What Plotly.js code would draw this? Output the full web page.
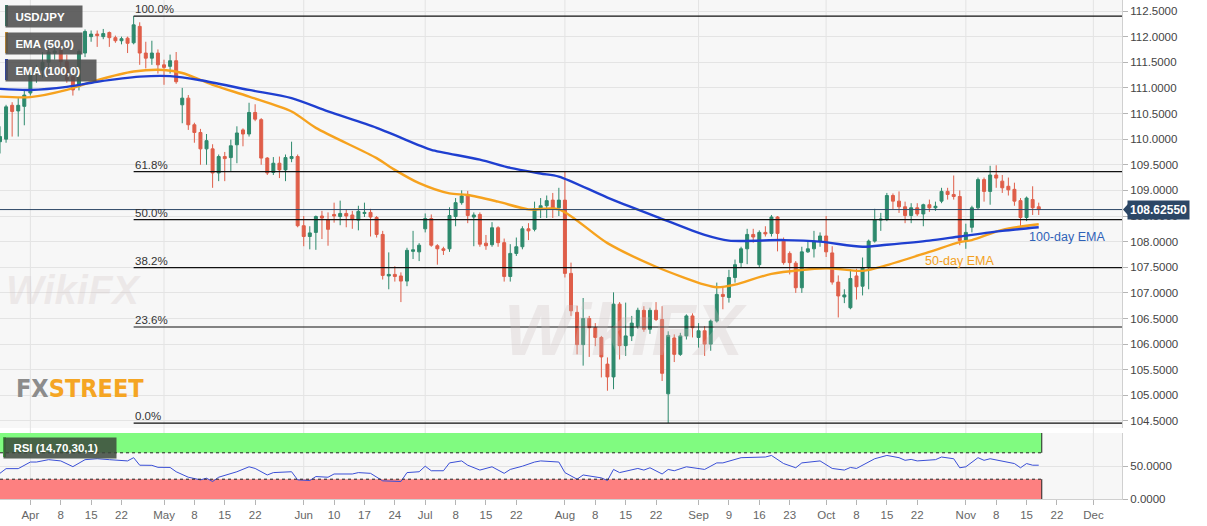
<!DOCTYPE html>
<html>
<head>
<meta charset="utf-8">
<script src="https://cdn.plot.ly/plotly-3.0.1.min.js"></script>
<style>
  html, body { margin: 0; padding: 0; background: #ffffff; }
  #chart { width: 1207px; height: 526px; }
</style>
</head>
<body>
<div id="chart"></div>
<script>
// USD/JPY daily, 25 Mar - 19 Nov 2019
const dates = [
  '2019-03-25','2019-03-26','2019-03-27','2019-03-28','2019-03-29',
  '2019-04-01','2019-04-02','2019-04-03','2019-04-04','2019-04-05',
  '2019-04-08','2019-04-09','2019-04-10','2019-04-11','2019-04-12',
  '2019-04-15','2019-04-16','2019-04-17','2019-04-18','2019-04-19',
  '2019-04-22','2019-04-23','2019-04-24','2019-04-25','2019-04-26',
  '2019-04-29','2019-04-30','2019-05-01','2019-05-02','2019-05-03',
  '2019-05-06','2019-05-07','2019-05-08','2019-05-09','2019-05-10',
  '2019-05-13','2019-05-14','2019-05-15','2019-05-16','2019-05-17',
  '2019-05-20','2019-05-21','2019-05-22','2019-05-23','2019-05-24',
  '2019-05-27','2019-05-28','2019-05-29','2019-05-30','2019-05-31',
  '2019-06-03','2019-06-04','2019-06-05','2019-06-06','2019-06-07',
  '2019-06-10','2019-06-11','2019-06-12','2019-06-13','2019-06-14',
  '2019-06-17','2019-06-18','2019-06-19','2019-06-20','2019-06-21',
  '2019-06-24','2019-06-25','2019-06-26','2019-06-27','2019-06-28',
  '2019-07-01','2019-07-02','2019-07-03','2019-07-04','2019-07-05',
  '2019-07-08','2019-07-09','2019-07-10','2019-07-11','2019-07-12',
  '2019-07-15','2019-07-16','2019-07-17','2019-07-18','2019-07-19',
  '2019-07-22','2019-07-23','2019-07-24','2019-07-25','2019-07-26',
  '2019-07-29','2019-07-30','2019-07-31','2019-08-01','2019-08-02',
  '2019-08-05','2019-08-06','2019-08-07','2019-08-08','2019-08-09',
  '2019-08-12','2019-08-13','2019-08-14','2019-08-15','2019-08-16',
  '2019-08-19','2019-08-20','2019-08-21','2019-08-22','2019-08-23',
  '2019-08-26','2019-08-27','2019-08-28','2019-08-29','2019-08-30',
  '2019-09-02','2019-09-03','2019-09-04','2019-09-05','2019-09-06',
  '2019-09-09','2019-09-10','2019-09-11','2019-09-12','2019-09-13',
  '2019-09-16','2019-09-17','2019-09-18','2019-09-19','2019-09-20',
  '2019-09-23','2019-09-24','2019-09-25','2019-09-26','2019-09-27',
  '2019-09-30','2019-10-01','2019-10-02','2019-10-03','2019-10-04',
  '2019-10-07','2019-10-08','2019-10-09','2019-10-10','2019-10-11',
  '2019-10-14','2019-10-15','2019-10-16','2019-10-17','2019-10-18',
  '2019-10-21','2019-10-22','2019-10-23','2019-10-24','2019-10-25',
  '2019-10-28','2019-10-29','2019-10-30','2019-10-31','2019-11-01',
  '2019-11-04','2019-11-05','2019-11-06','2019-11-07','2019-11-08',
  '2019-11-11','2019-11-12','2019-11-13','2019-11-14','2019-11-15',
  '2019-11-18','2019-11-19'
];

const open = [
  109.95,110.00,110.66,110.55,110.64, 110.90,111.30,111.35,111.50,111.68,
  111.74,111.51,111.22,111.03,111.68, 112.00,112.05,112.00,112.08,111.98,
  111.92,111.97,111.88,112.20,111.68, 111.58,111.68,111.45,111.42,111.53,
  110.67,110.80,110.28,110.13,109.81, 109.81,109.34,109.66,109.64,109.89,
  110.18,110.10,110.52,110.38,109.63, 109.35,109.53,109.40,109.62,109.66,
  108.31,108.10,108.18,108.50,108.43, 108.53,108.49,108.55,108.52,108.42,
  108.55,108.57,108.47,108.14,107.33, 107.36,107.33,107.23,107.81,107.80,
  108.25,108.45,107.92,107.86,107.86, 108.49,108.76,108.92,108.48,108.53,
  107.97,107.94,108.27,107.98,107.32, 107.77,107.90,108.25,108.24,108.64,
  108.70,108.81,108.66,108.81,107.38, 106.62,105.99,106.50,106.32,106.13,
  105.61,105.36,106.78,105.97,106.16, 106.35,106.66,106.29,106.66,106.48,
  105.03,106.12,105.80,106.16,106.55, 106.13,106.26,106.00,106.45,106.97,
  106.91,107.30,107.59,107.86,108.14, 107.55,108.18,108.16,108.48,108.03,
  107.77,107.58,107.10,107.80,107.86, 108.01,108.11,107.78,107.21,106.92,
  106.71,107.33,107.13,107.49,108.01, 108.42,108.44,108.90,108.79,108.68,
  108.51,108.66,108.54,108.72,108.66, 108.79,108.98,108.92,108.88,108.03,
  108.28,108.66,109.21,108.98,109.30, 109.18,109.08,109.02,108.80,108.47,
  108.82,108.68
];
const high = [
  110.25,110.67,110.72,110.80,110.95, 111.40,111.45,111.70,111.80,111.85,
  111.85,111.65,111.30,111.75,112.14, 112.12,112.12,112.15,112.10,112.02,
  112.00,112.00,112.40,112.28,111.90, 111.92,111.75,111.55,111.65,111.70,
  111.00,110.86,110.32,110.20,110.10, 109.90,109.70,109.75,109.99,110.25,
  110.21,110.71,110.68,110.41,109.65, 109.65,109.66,109.70,109.95,109.70,
  108.50,108.30,108.51,108.60,108.57, 108.76,108.80,108.63,108.60,108.70,
  108.76,108.64,108.50,108.21,107.79, 107.52,107.40,107.88,108.21,107.97,
  108.55,108.53,107.95,107.90,108.67, 108.85,109.00,108.99,108.57,108.57,
  108.13,108.38,108.30,108.06,107.95, 108.08,108.30,108.36,108.78,108.85,
  108.90,108.95,109.05,109.37,107.59, 106.75,106.90,106.55,106.41,106.16,
  105.74,107.01,106.82,106.81,106.55, 106.71,106.74,106.71,106.82,106.74,
  106.25,106.19,106.22,106.58,106.60, 106.41,106.35,106.48,107.20,107.10,
  107.45,107.65,107.90,108.25,108.25, 108.22,108.30,108.52,108.50,108.08,
  107.81,107.62,107.90,108.01,108.21, 108.18,108.50,107.91,107.34,107.07,
  107.46,107.47,107.69,108.04,108.64, 108.56,108.95,108.94,108.98,108.78,
  108.75,108.75,108.74,108.82,108.78, 109.05,109.05,109.29,109.00,108.35,
  108.70,109.25,109.25,109.48,109.49, 109.30,109.25,109.15,108.85,108.88,
  109.08,108.76
];
const low = [
  109.72,109.93,110.05,110.05,110.27, 110.85,111.10,111.20,111.40,111.55,
  111.40,111.10,110.85,110.95,111.60, 111.90,111.80,111.95,111.80,111.88,
  111.85,111.68,111.85,111.45,111.38, 111.45,111.28,111.06,111.28,111.08,
  110.31,110.18,109.93,109.50,109.50, 109.05,109.18,109.18,109.38,109.53,
  109.86,110.05,110.35,109.50,109.30, 109.30,109.24,109.18,109.55,108.28,
  107.91,107.85,107.84,108.05,107.92, 108.37,108.32,108.28,108.25,108.22,
  108.48,108.10,108.08,107.26,107.07, 107.22,106.82,107.13,107.66,107.62,
  108.18,107.90,107.55,107.74,107.80, 108.30,108.72,108.36,107.91,107.90,
  107.84,107.90,107.90,107.22,107.22, 107.72,107.85,108.03,108.20,108.46,
  108.46,108.46,108.50,107.30,106.55, 105.80,105.58,105.75,105.96,105.35,
  105.09,105.12,105.70,105.77,106.06, 106.30,106.24,106.20,106.45,105.28,
  104.46,105.65,105.77,106.09,106.13, 105.93,105.77,105.87,106.42,106.68,
  106.81,107.20,107.50,107.56,107.98, 107.50,108.10,108.10,107.81,107.55,
  107.36,107.00,107.00,107.78,107.69, 107.90,107.70,107.16,106.52,106.80,
  106.68,106.87,106.95,107.07,107.98, 108.21,108.40,108.63,108.56,108.36,
  108.36,108.50,108.30,108.58,108.60, 108.75,108.82,108.82,107.93,107.86,
  108.18,108.62,108.78,108.72,109.05, 108.95,108.90,108.70,108.28,108.40,
  108.52,108.52
];
const close = [
  110.05,110.63,110.54,110.66,110.86, 111.30,111.35,111.50,111.70,111.72,
  111.51,111.16,110.96,111.71,112.10, 112.05,112.02,112.06,111.98,111.92,
  111.96,111.87,112.23,111.68,111.58, 111.68,111.45,111.40,111.53,111.12,
  110.80,110.28,110.13,109.81,109.97, 109.34,109.66,109.62,109.87,110.12,
  110.10,110.52,110.39,109.63,109.34, 109.53,109.40,109.64,109.66,108.31,
  108.10,108.17,108.49,108.46,108.24, 108.50,108.55,108.50,108.43,108.59,
  108.57,108.48,108.14,107.34,107.36, 107.32,107.23,107.83,107.84,107.93,
  108.45,107.93,107.86,107.83,108.51, 108.76,108.89,108.51,108.52,107.95,
  107.92,108.27,107.98,107.32,107.77, 107.90,108.25,108.21,108.64,108.70,
  108.80,108.66,108.81,107.38,106.65, 105.99,106.50,106.32,106.13,105.75,
  105.36,106.78,105.97,106.16,106.41, 106.66,106.29,106.66,106.48,105.43,
  106.17,105.80,106.16,106.55,106.32, 106.26,106.00,106.45,106.97,106.93,
  107.30,107.55,107.86,108.14,108.09, 108.18,108.15,108.48,108.16,107.59,
  107.59,107.10,107.80,107.86,108.01, 108.11,107.80,107.21,106.94,106.96,
  107.28,107.12,107.49,108.01,108.42, 108.44,108.90,108.79,108.68,108.51,
  108.66,108.54,108.72,108.66,108.69, 108.98,108.92,108.88,108.02,108.18,
  108.66,109.21,108.98,109.30,109.24, 109.05,109.01,108.79,108.47,108.85,
  108.66,108.6255
];

// moving averages, sampled from the drawn curves (index into dates)
const ema50Idx = [0,5,11,16,22,27,30,35,41,48,52,62,65,69,74,77,82,87,92,100,108,116,118,121,127,136,142,146,153,158,160,165,171];
const ema50Val = [110.83,110.82,110.96,111.15,111.32,111.35,111.29,111.06,110.83,110.54,110.22,109.63,109.40,109.14,108.94,108.91,108.78,108.63,108.63,107.97,107.51,107.16,107.11,107.16,107.37,107.48,107.43,107.54,107.80,107.99,108.03,108.23,108.34];
const ema100Idx = [0,5,11,16,23,28,33,41,48,54,62,69,71,79,84,89,92,100,108,116,120,129,135,142,146,153,158,165,171];
const ema100Val = [110.98,110.96,111.02,111.12,111.22,111.23,111.15,110.96,110.80,110.54,110.22,109.88,109.79,109.60,109.44,109.33,109.27,108.86,108.49,108.13,108.02,108.03,108.00,107.90,107.94,108.02,108.10,108.21,108.28];

// RSI (14)
const rsiIdx = [0,1,3,5,6,8,10,12,14,16,18,21,22,23,25,26,28,29,31,33,34,35,36,39,41,42,44,45,48,49,51,52,54,55,58,59,61,63,66,67,69,70,71,73,74,76,77,79,81,83,84,86,88,89,92,93,95,96,99,100,101,102,105,106,107,109,110,111,113,116,118,119,122,124,126,127,129,131,132,135,137,139,140,141,144,146,148,149,150,151,153,154,155,157,158,159,161,162,163,166,167,168,169,170,171];
const rsiVal = [39,46,46,56,56,59.6,57.7,49,59.6,61,59.6,57.7,62.6,51.2,51,48,47.8,41.3,33,29,31.5,26.5,33,41.3,48.8,46.3,36.4,40,41.3,29,28,34,33,37.9,37.9,40,38.9,27.5,26.5,40,41.3,49.7,42.8,42.8,54.7,57.7,51.2,43.8,48.8,38.9,44.8,49.7,56,57.7,56,40,30,36.4,32,28,44.8,40,46.3,43.8,47.3,37.9,44.8,42.8,48.8,44.8,54.7,54.7,62.6,63.6,63.6,66,53.7,47.3,54.7,57.7,46.3,43.8,47.8,46.3,61,66,62.6,58.6,60,57.7,59.6,59.6,63.6,61,47.3,48.8,62.6,58.6,61,56,53.7,47.3,53.7,51.2,51.2];

const tickDates = ['2019-04-01','2019-04-08','2019-04-15','2019-04-22','2019-05-01','2019-05-08','2019-05-15','2019-05-22','2019-06-03','2019-06-10','2019-06-17','2019-06-24','2019-07-01','2019-07-08','2019-07-15','2019-07-22','2019-08-01','2019-08-08','2019-08-15','2019-08-22','2019-09-02','2019-09-09','2019-09-16','2019-09-23','2019-10-01','2019-10-08','2019-10-15','2019-10-22','2019-11-01','2019-11-08','2019-11-15','2019-11-22','2019-12-02'];
const tickLabels = ['Apr','8','15','22','May','8','15','22','Jun','10','17','24','Jul','8','15','22','Aug','8','15','22','Sep','9','16','23','Oct','8','15','22','Nov','8','15','22','Dec'];

const fibRatios = [1, 0.618, 0.5, 0.382, 0.236, 0];
const fibLabels = ['100.0%', '61.8%', '50.0%', '38.2%', '23.6%', '0.0%'];

// ---- geometry helpers (pixel -> paper) ----
const W = 1207, H = 526;
const M = { l: 0, r: 85, t: 0, b: 27 };
const PW = W - M.l - M.r, PH = H - M.t - M.b;
const px = x => x / PW;
const py = y => 1 - y / PH;

const xRange = ['2019-03-25', '2019-12-06 17:00'];
const font = 'Liberation Sans, Arial, sans-serif';
const last = dates.length - 1;
const lastClose = close[last];
const hiIdx = high.indexOf(Math.max(...high));
const hi = high[hiIdx], lo = Math.min(...low);
const bandEnd = dates[last] + ' 12:00';

const traces = [
  {
    type: 'candlestick', x: dates, open, high, low, close,
    xaxis: 'x', yaxis: 'y', hoverinfo: 'skip', showlegend: false,
    whiskerwidth: 0,
    increasing: { line: { color: '#2e8a6d', width: 1 }, fillcolor: '#2e8a6d' },
    decreasing: { line: { color: '#df5e49', width: 1 }, fillcolor: '#df5e49' },
  },
  {
    type: 'scatter', mode: 'lines', x: ema50Idx.map(i => dates[i]), y: ema50Val,
    line: { color: '#f6a21e', width: 2.4, shape: 'spline', smoothing: 0.8 },
    hoverinfo: 'skip', showlegend: false,
  },
  {
    type: 'scatter', mode: 'lines', x: ema100Idx.map(i => dates[i]), y: ema100Val,
    line: { color: '#1f3fd0', width: 2.4, shape: 'spline', smoothing: 0.8 },
    hoverinfo: 'skip', showlegend: false,
  },
  {
    type: 'scatter', mode: 'lines', x: rsiIdx.map(i => dates[i]), y: rsiVal,
    yaxis: 'y2', line: { color: '#3a4fd6', width: 1 },
    hoverinfo: 'skip', showlegend: false,
  },
];

const shapes = [];
// month grid lines
tickDates.forEach((d, k) => {
  if (isNaN(+tickLabels[k])) {
    shapes.push({ type: 'line', xref: 'x', yref: 'paper', x0: d, x1: d, y0: 0, y1: 1,
                  line: { color: '#e3e3e3', width: 1 }, layer: 'below' });
  }
});
// RSI bands
shapes.push(
  { type: 'rect', xref: 'x', yref: 'y2', x0: dates[0], x1: bandEnd, y0: 70, y1: 100,
    fillcolor: '#80fb80', line: { width: 0 }, layer: 'between' },
  { type: 'rect', xref: 'x', yref: 'y2', x0: dates[0], x1: bandEnd, y0: 0, y1: 30,
    fillcolor: '#fd8080', line: { width: 0 }, layer: 'between' },
  { type: 'line', xref: 'x', yref: 'y2', x0: dates[0], x1: bandEnd, y0: 70, y1: 70,
    line: { color: '#222', width: 1, dash: 'dot' } },
  { type: 'line', xref: 'x', yref: 'y2', x0: dates[0], x1: bandEnd, y0: 30, y1: 30,
    line: { color: '#222', width: 1, dash: 'dot' } },
  { type: 'line', xref: 'x', yref: 'y2', x0: bandEnd, x1: bandEnd, y0: 70, y1: 100,
    line: { color: '#222', width: 1 } },
  { type: 'line', xref: 'x', yref: 'y2', x0: bandEnd, x1: bandEnd, y0: 0, y1: 30,
    line: { color: '#222', width: 1 } },
);
// fibonacci retracement lines
fibRatios.forEach(r => {
  const lvl = lo + r * (hi - lo);
  shapes.push({ type: 'line', xref: 'x', yref: 'y', x0: dates[hiIdx], x1: xRange[1], y0: lvl, y1: lvl,
                line: { color: '#111', width: 1.2 } });
});
// last price line
shapes.push({ type: 'line', xref: 'paper', yref: 'y', x0: 0, x1: 1, y0: lastClose, y1: lastClose,
              line: { color: '#2c4766', width: 1 } });
shapes.push({ type: 'path', xref: 'paper', yref: 'y',
              path: `M ${px(PW + 1)} ${lastClose} L ${px(PW + 6)} ${lastClose + 0.11} L ${px(PW + 6)} ${lastClose - 0.11} Z`,
              fillcolor: '#2c4766', line: { width: 0 } });
// legend colour bars
const legendBars = [['#2e8a6d', 5, 26], ['#f6a21e', 32, 53], ['#1f3fd0', 59, 80]];
legendBars.forEach(([c, y0, y1]) => {
  shapes.push({ type: 'rect', xref: 'paper', yref: 'paper', x0: px(5), x1: px(8), y0: py(y1), y1: py(y0),
                fillcolor: c, line: { width: 0 } });
});
shapes.push({ type: 'rect', xref: 'paper', yref: 'paper', x0: px(3), x1: px(6), y0: py(457), y1: py(437),
              fillcolor: '#3fd43f', line: { width: 0 } });

const annotations = [];
fibRatios.forEach((r, k) => {
  annotations.push({ xref: 'x', yref: 'y', x: dates[hiIdx], y: lo + r * (hi - lo),
                     text: fibLabels[k], showarrow: false, xanchor: 'left', yanchor: 'bottom',
                     xshift: -1, yshift: -1, font: { family: font, size: 11.5, color: '#333' } });
});
const legendBox = (text, x, y, w) => ({
  xref: 'paper', yref: 'paper', x: px(x), y: py(y), xanchor: 'left', yanchor: 'top',
  text: '&nbsp;&nbsp;' + text, showarrow: false, align: 'left', width: w, height: 15,
  bgcolor: 'rgba(78,78,78,0.88)', borderpad: 3,
  font: { family: font, size: 11.5, color: '#ffffff', weight: 'bold' },
});
annotations.push(
  legendBox('<b>USD/JPY</b>', 5, 5, 70),
  legendBox('<b>EMA (50,0)</b>', 5, 32, 70),
  legendBox('<b>EMA (100,0)</b>', 5, 59, 84),
  Object.assign(legendBox('<b>RSI (14,70,30,1)</b>', 3, 437, 106), { bgcolor: 'rgba(60,72,60,0.85)', height: 14 }),
  { xref: 'x', yref: 'y', x: '2019-11-15', y: 108.09, text: '100-day EMA', showarrow: false,
    xanchor: 'left', font: { family: font, size: 12.5, color: '#2f62b8' } },
  { xref: 'x', yref: 'y', x: '2019-10-23', y: 107.62, text: '50-day EMA', showarrow: false,
    xanchor: 'left', font: { family: font, size: 12.5, color: '#f3a020' } },
  { xref: 'paper', yref: 'y', x: 1, y: lastClose, xanchor: 'left', xshift: 5,
    text: '<b>' + lastClose.toFixed(5) + '</b>', showarrow: false, bgcolor: '#2c4766', borderpad: 2,
    font: { family: font, size: 12, color: '#ffffff' } },
  { xref: 'paper', yref: 'paper', x: px(14), y: py(388), xanchor: 'left', yanchor: 'middle',
    text: '<b><span style="color:#8c8c8c">FX</span><span style="color:#f5a523">STREET</span></b>',
    showarrow: false, font: { family: 'DejaVu Sans Condensed, Liberation Sans Narrow, sans-serif', size: 25 } },
  { xref: 'paper', yref: 'paper', x: px(625), y: py(330), xanchor: 'center', yanchor: 'middle',
    text: '<b><i>WikiFX</i></b>', showarrow: false,
    font: { family: font, size: 72, color: 'rgba(205,190,190,0.28)' } },
  { xref: 'paper', yref: 'paper', x: px(4), y: py(290), xanchor: 'left', yanchor: 'middle',
    text: '<b><i>WikiFX</i></b>', showarrow: false,
    font: { family: font, size: 40, color: 'rgba(205,190,190,0.25)' } },
);

const layout = {
  width: W, height: H,
  margin: M,
  paper_bgcolor: '#ffffff',
  plot_bgcolor: '#f7f7f7',
  showlegend: false,
  font: { family: font, color: '#444' },
  xaxis: {
    type: 'date', range: xRange, anchor: 'y2',
    rangebreaks: [{ bounds: ['sat', 'mon'] }],
    rangeslider: { visible: false },
    tickvals: tickDates, ticktext: tickLabels,
    showgrid: false, ticks: 'outside', ticklen: 5, tickcolor: '#b5b5b5',
    tickfont: { family: font, size: 11.5, color: '#666' },
    showline: true, linecolor: '#d0d0d0', zeroline: false,
  },
  yaxis: {
    domain: [py(428), 1], range: [104.363, 112.715], side: 'right',
    dtick: 0.5, tick0: 104.5, tickformat: '.4f',
    gridcolor: '#e4e4e4', ticks: 'outside', ticklen: 5, tickcolor: '#b5b5b5',
    tickfont: { family: font, size: 11.5, color: '#444' },
    showline: true, linecolor: '#d0d0d0', zeroline: false,
  },
  yaxis2: {
    domain: [0, py(433)], range: [0, 100], side: 'right',
    tickvals: [0, 50], tickformat: '.4f',
    gridcolor: '#e4e4e4', ticks: 'outside', ticklen: 5, tickcolor: '#b5b5b5',
    tickfont: { family: font, size: 11.5, color: '#444' },
    showline: true, linecolor: '#d0d0d0', zeroline: false,
  },
  shapes,
  annotations,
};

Plotly.newPlot('chart', traces, layout, { displayModeBar: false, staticPlot: true });
</script>
</body>
</html>
